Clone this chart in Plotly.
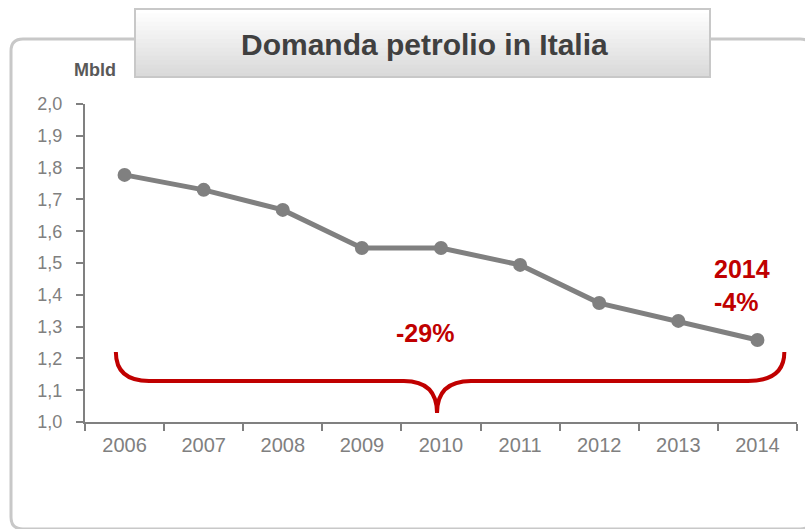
import plotly.graph_objects as go

years = [2006, 2007, 2008, 2009, 2010, 2011, 2012, 2013, 2014]
demand = [1.777, 1.730, 1.667, 1.547, 1.547, 1.494, 1.374, 1.318, 1.258]
title_text = "Domanda petrolio in Italia"
unit_text = "Mbld"
total_change = "-29%"
last_change = "2014<br>-4%"

GRAY = "#808080"
RED = "#c00000"
W, H = 805, 529
L, R, T, B = 85, 8, 104, 107
PW, PH = W - L - R, H - T - B


def px(x):
    return (x - L) / PW


def py(y):
    return (H - B - y) / PH


fig = go.Figure()
fig.add_trace(go.Scatter(
    x=years, y=demand, mode="lines+markers",
    line=dict(color=GRAY, width=5),
    marker=dict(color=GRAY, size=14),
    showlegend=False, hoverinfo="skip",
))

shapes = []
# outer rounded frame
l, r, t, b = px(11), px(812), py(39), py(529)
dx, dy = 12 / PW, 12 / PH
frame = (f"M {l},{b+dy} L {l},{t-dy} Q {l},{t} {l+dx},{t} L {r-dx},{t} "
         f"Q {r},{t} {r},{t-dy} L {r},{b+dy} Q {r},{b} {r-dx},{b} "
         f"L {l+dx},{b} Q {l},{b} {l},{b+dy} Z")
shapes.append(dict(type="path", xref="paper", yref="paper", path=frame,
                   line=dict(color="#c8c8c8", width=3), layer="below"))

# title box with vertical gradient
bx0, bx1, by0, by1 = 135, 710, 9, 77
n = 16
for i in range(n):
    g = int(255 - (255 - 218) * i / (n - 1))
    y0 = by0 + (by1 - by0) * i / n
    y1 = by0 + (by1 - by0) * (i + 1) / n
    shapes.append(dict(type="rect", xref="paper", yref="paper",
                       x0=px(bx0), x1=px(bx1), y0=py(y0), y1=py(y1 + 0.5),
                       fillcolor=f"rgb({g},{g},{g})", line=dict(width=0)))
shapes.append(dict(type="rect", xref="paper", yref="paper",
                   x0=px(bx0), x1=px(bx1), y0=py(by0), y1=py(by1),
                   line=dict(color="#c8c8c8", width=2)))

# curly brace in data coordinates
xa, xb, xc, xd, xe, xf, xg = 2005.89, 2006.31, 2009.53, 2009.95, 2010.38, 2013.88, 2014.34
ytop, ymid, ytip = 1.220, 1.129, 1.028
brace = (f"M {xa},{ytop} Q {xa},{ymid} {xb},{ymid} L {xc},{ymid} "
         f"Q {xd},{ymid} {xd},{ytip} Q {xd},{ymid} {xe},{ymid} "
         f"L {xf},{ymid} Q {xg},{ymid} {xg},{ytop}")
shapes.append(dict(type="path", xref="x", yref="y", path=brace,
                   line=dict(color=RED, width=4)))

annotations = [
    dict(text=f"<b>{title_text}</b>", xref="paper", yref="paper",
         x=px(424), y=py(45), showarrow=False, xanchor="center", yanchor="middle",
         font=dict(family="Liberation Sans", size=30, color="#404040")),
    dict(text=f"<b>{unit_text}</b>", xref="paper", yref="paper",
         x=px(95), y=py(70), showarrow=False, xanchor="center", yanchor="middle",
         font=dict(family="Liberation Sans", size=18, color="#595959")),
    dict(text=f"<b>{total_change}</b>", xref="x", yref="y",
         x=2009.8, y=1.28, showarrow=False, xanchor="center", yanchor="middle",
         font=dict(family="Liberation Sans", size=25, color=RED)),
    dict(text=f"<b>{last_change}</b>", xref="x", yref="y",
         x=2013.43, y=1.428, showarrow=False, xanchor="left", yanchor="middle",
         align="left",
         font=dict(family="Liberation Sans", size=25, color=RED)),
]

fig.update_layout(
    width=W, height=H,
    margin=dict(l=L, r=R, t=T, b=B),
    paper_bgcolor="white", plot_bgcolor="white",
    separators=",.",
    shapes=shapes, annotations=annotations,
    font=dict(family="Liberation Sans", color=GRAY),
    xaxis=dict(range=[2005.5, 2014.5], tickvals=years,
               ticktext=[str(y) for y in years], ticks="",
               showline=True, linecolor=GRAY, linewidth=2,
               showgrid=False, zeroline=False,
               tickfont=dict(size=20, color=GRAY), ticklabelstandoff=4,
               minor=dict(tickvals=[y - 0.5 for y in years] + [years[-1] + 0.5],
                          ticks="outside", ticklen=7, tickcolor=GRAY, tickwidth=2)),
    yaxis=dict(range=[1.0, 2.0], dtick=0.1, tickformat=".1f",
               ticks="outside", ticklen=7, tickcolor=GRAY, tickwidth=2,
               showline=True, linecolor=GRAY, linewidth=2,
               showgrid=False, zeroline=False, ticklabelstandoff=10,
               tickfont=dict(size=18, color=GRAY)),
)

fig.write_html("out.html", config={"displayModeBar": False},
               post_script="document.body.style.margin='0';document.body.style.overflow='hidden';")
